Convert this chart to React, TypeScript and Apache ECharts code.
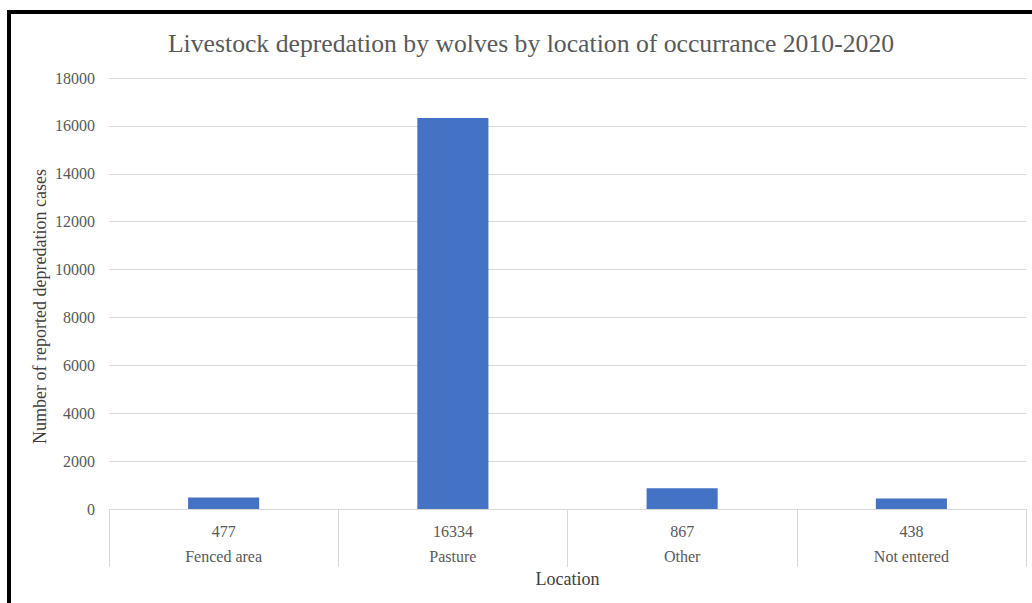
import React, { useEffect, useRef } from "react";
import * as echarts from "echarts";

const categories = ["Fenced area", "Pasture", "Other", "Not entered"];
const values = [477, 16334, 867, 438];
const yMin = 0;
const yMax = 18000;
const yStep = 2000;

const FONT = "Liberation Serif";

export default function App() {
  const ref = useRef<HTMLDivElement>(null);
  useEffect(() => {
    if (!ref.current) return;
    const chart = echarts.init(ref.current, undefined, { renderer: "svg" });
    chart.setOption({
      animation: false,
      backgroundColor: "#ffffff",
      title: {
        text: "Livestock depredation by wolves by location of occurrance 2010-2020",
        left: 526,
        top: 25,
        textAlign: "center",
        textStyle: { fontFamily: FONT, fontSize: 25.7, fontWeight: "normal", color: "#595959" },
      },
      graphic: [
        { type: "rect", shape: { x: 7, y: 10, width: 1025, height: 4 }, style: { fill: "#000" } },
        { type: "rect", shape: { x: 7, y: 10, width: 4, height: 593 }, style: { fill: "#000" } },
      ],
      grid: { left: 109, right: 6, top: 78, bottom: 94, containLabel: false },
      xAxis: {
        type: "category",
        data: categories,
        name: "Location",
        nameLocation: "middle",
        nameGap: 61,
        nameTextStyle: { fontFamily: FONT, fontSize: 18, color: "#404040" },
        axisLine: { show: true, lineStyle: { color: "#d9d9d9", width: 1 } },
        axisTick: { show: true, length: 58, interval: 0, lineStyle: { color: "#d9d9d9" } },
        axisLabel: {
          interval: 0,
          margin: 10,
          formatter: (v: string, i: number) => `{v|${values[i]}}\n{c|${v}}`,
          rich: {
            v: { fontFamily: FONT, fontSize: 16, color: "#595959", lineHeight: 25 },
            c: { fontFamily: FONT, fontSize: 16, color: "#595959", lineHeight: 25 },
          },
        },
      },
      yAxis: {
        type: "value",
        min: yMin,
        max: yMax,
        interval: yStep,
        name: "Number of reported depredation cases",
        nameLocation: "middle",
        nameGap: 60,
        nameMoveOverlap: false,
        nameTextStyle: {
          fontFamily: FONT,
          fontSize: 18,
          color: "#404040",
          padding: [0, 26, 0, 0],
        },
        axisLine: { show: false },
        axisTick: { show: false },
        axisLabel: {
          margin: 14,
          fontFamily: FONT,
          fontSize: 16,
          color: "#595959",
          formatter: (v: number) => String(v),
        },
        splitLine: { lineStyle: { color: "#d9d9d9", width: 1 } },
      },
      series: [
        {
          type: "bar",
          data: values,
          barWidth: "31%",
          itemStyle: { color: "#4472C4" },
        },
      ],
    });
    return () => chart.dispose();
  }, []);
  return (
    <div
      ref={ref}
      style={{ position: "fixed", left: 0, top: 0, width: 1032, height: 603 }}
    />
  );
}
